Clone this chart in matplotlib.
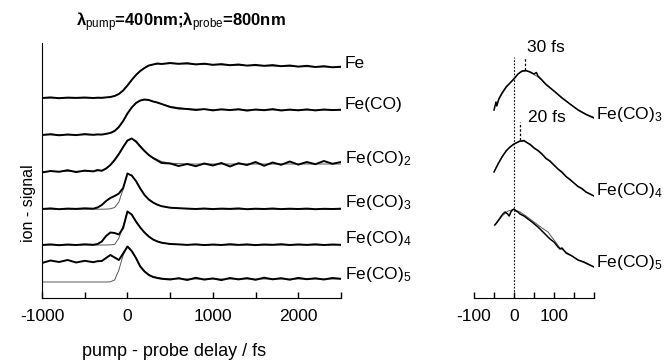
import matplotlib
matplotlib.use('Agg')
import matplotlib.pyplot as plt

plt.rcParams['font.family'] = ['Liberation Sans', 'DejaVu Sans']
plt.rcParams['mathtext.fontset'] = 'custom'
plt.rcParams['mathtext.rm'] = 'Liberation Sans'
plt.rcParams['mathtext.it'] = 'Liberation Sans:italic'
plt.rcParams['mathtext.bf'] = 'Liberation Sans:bold'
plt.rcParams['axes.unicode_minus'] = False

# ---- left panel: full transients (ion signal, offset per species) ----
delay = [-1000, -900, -800, -700, -600, -500, -400, -350, -300, -250, -200, -150,
         -100, -50, 0, 50, 100, 150, 200, 250, 300, 350, 400, 500, 600, 700, 800,
         900, 1000, 1100, 1200, 1300, 1400, 1500, 1600, 1700, 1800, 1900, 2000,
         2100, 2200, 2300, 2400, 2500]
delay_fit = [-1000, -400, -300, -250, -200, -150, -100, -50, 0, 50, 100, 150, 200,
             250, 300, 400, 500, 700, 1000, 1500, 2000, 2500]

fe = [200.0, 200.6, 199.8, 200.4, 200.1, 200.5, 200.0, 200.3, 200.2, 200.6, 201.0, 202.0,
      204.0, 207.5, 212.5, 218.0, 223.0, 227.0, 230.0, 232.5, 233.5, 234.5, 234.0, 235.0,
      234.2, 234.8, 233.6, 234.3, 233.2, 233.9, 232.8, 233.5, 232.4, 233.1, 232.2, 232.9,
      231.8, 232.5, 231.4, 232.2, 231.0, 231.8, 230.7, 231.3]
fe_fit = [200.0, 200.0, 200.2, 200.5, 201.0, 202.2, 204.2, 207.8, 212.6, 218.0, 223.0,
          227.2, 230.3, 232.3, 233.5, 234.3, 234.4, 234.0, 233.3, 232.3, 231.4, 230.8]

feco1 = [163.0, 163.8, 162.7, 163.5, 162.9, 163.9, 163.2, 163.6, 163.4, 164.2, 165.0, 167.0,
         171.0, 177.0, 184.5, 190.5, 195.0, 197.5, 198.5, 198.0, 196.5, 195.5, 194.0, 191.0,
         189.5, 189.0, 188.0, 188.9, 187.6, 188.7, 187.9, 188.8, 187.4, 188.5, 187.8, 188.9,
         187.5, 188.4, 187.7, 188.6, 187.6, 188.5, 187.9, 188.3]
feco1_fit = [163.2, 163.2, 163.5, 164.0, 165.2, 167.5, 171.2, 176.8, 184.0, 190.2, 194.8,
             197.4, 198.2, 197.8, 196.6, 194.0, 191.5, 189.2, 188.3, 188.1, 188.0, 188.0]

feco2 = [125.5, 127.0, 126.2, 127.8, 125.9, 127.4, 126.6, 128.0, 127.2, 129.5, 133.0, 138.0,
         144.0, 151.0, 157.5, 159.5, 156.5, 151.5, 147.0, 143.0, 140.0, 137.5, 135.0, 134.5,
         132.0, 134.0, 131.8, 134.5, 132.5, 135.0, 131.5, 134.8, 133.0, 136.0, 132.2, 135.5,
         133.2, 136.5, 133.4, 136.0, 133.8, 137.0, 134.2, 136.0]
feco2_fit = [126.5, 126.8, 127.5, 129.2, 132.8, 137.8, 144.0, 151.0, 157.2, 159.2, 157.0,
             152.0, 147.2, 143.2, 140.2, 136.5, 134.8, 134.0, 134.0, 134.0, 134.0, 134.0]

feco3 = [89.0, 89.6, 88.8, 89.4, 89.1, 89.7, 89.3, 90.5, 93.0, 97.0, 100.0, 102.0,
         104.5, 110.0, 124.5, 122.5, 117.0, 109.5, 103.0, 98.5, 95.5, 93.3, 91.8, 90.3,
         89.8, 89.4, 89.0, 89.5, 88.9, 89.4, 89.1, 89.6, 88.8, 89.3, 89.0, 89.5,
         88.9, 89.3, 89.0, 89.4, 88.8, 89.2, 89.0, 89.3]
feco3_fit = [88.8, 88.8, 88.8, 88.9, 89.2, 90.5, 96.0, 109.0, 124.0, 122.5, 117.0,
             109.5, 103.0, 98.5, 95.5, 91.8, 90.3, 89.2, 88.9, 88.8, 88.8, 88.8]

feco4 = [53.0, 53.6, 52.8, 53.5, 53.0, 53.7, 53.2, 54.0, 56.5, 62.0, 65.5, 65.0,
         63.5, 70.0, 86.5, 83.5, 76.5, 70.5, 65.5, 61.5, 58.5, 56.5, 55.3, 54.0,
         53.6, 53.1, 53.7, 52.9, 53.5, 53.0, 53.8, 53.1, 53.6, 52.9, 53.5, 53.2,
         53.8, 53.0, 53.6, 53.1, 53.7, 53.0, 53.5, 53.2]
feco4_fit = [53.0, 53.0, 53.0, 53.0, 53.2, 53.5, 60.0, 72.0, 86.5, 83.5, 76.5,
             70.5, 65.5, 61.5, 58.5, 55.3, 54.0, 53.3, 53.0, 53.0, 53.0, 53.0]

feco5 = [35.0, 37.5, 36.0, 38.0, 35.5, 37.2, 35.8, 36.8, 37.0, 40.0, 43.0, 40.5,
         38.0, 44.5, 51.5, 47.0, 40.0, 31.5, 26.5, 23.0, 21.0, 20.0, 19.2, 18.5,
         19.8, 18.0, 20.2, 18.4, 19.6, 17.9, 20.0, 18.6, 19.9, 18.2, 20.3, 18.7,
         19.8, 18.3, 20.1, 18.8, 19.7, 18.5, 20.0, 19.2]
feco5_fit = [16.0, 16.0, 16.0, 16.0, 16.2, 18.0, 28.0, 43.0, 51.5, 47.0, 40.0,
             32.0, 27.0, 23.5, 21.5, 19.8, 19.2, 19.0, 19.0, 19.0, 19.0, 19.0]

species = ['Fe', 'Fe(CO)', 'Fe(CO)$_2$', 'Fe(CO)$_3$', 'Fe(CO)$_4$', 'Fe(CO)$_5$']
label_y = [235, 193, 140, 96, 60, 24]

# ---- right panel: zoom around time zero ----
t_r3 = [-50, -45, -43, -38, -30, -20, -10, 0, 10, 20, 30, 40, 50, 56, 60, 70, 80,
        100, 120, 140, 160, 180, 200]
sig_r3 = [188, 196, 192, 199, 205, 211, 215, 219, 224, 227, 227.5, 226, 224, 225.5,
          222, 218, 213.5, 207, 200, 194, 188, 183.5, 180]
t_r3_fit = [-40, -30, -20, -10, 0, 10, 20, 30, 40, 60, 80, 100, 120, 140, 160, 180, 200]
sig_r3_fit = [197, 204, 210, 215, 220, 224, 226.5, 227, 226, 221, 214, 207, 200.5,
              194, 188.5, 184, 180.5]

t_r4 = [-50, -40, -30, -20, -10, 0, 10, 15, 20, 25, 30, 40, 50, 60, 70, 80, 90, 100,
        110, 120, 130, 140, 150, 160, 170, 180, 190, 200]
sig_r4 = [126, 134, 141, 147, 151, 154, 156, 157, 157, 157.5, 156, 153.5, 150, 147.5,
          144, 139.5, 137, 133, 129, 126, 121.5, 118.5, 115, 111.5, 109.5, 106, 104, 102]
t_r4_fit = [-45, -30, -15, 0, 15, 25, 40, 60, 80, 100, 120, 140, 160, 180, 200]
sig_r4_fit = [130, 141, 149, 154, 156.5, 157, 154, 147, 140, 132.5, 125, 118, 111.5, 106, 102]

t_r5 = [-48, -42, -35, -28, -22, -16, -12, -8, -4, 0, 5, 10, 15, 25, 35, 45, 60, 75,
        90, 100, 110, 115, 120, 130, 145, 160, 175, 190, 200]
sig_r5 = [73, 76, 80, 84, 86, 84, 82, 86, 88, 89, 87, 86, 84, 82, 79, 76, 71, 65,
          59, 56, 51, 49, 50, 45, 42, 38, 36, 33, 31]
t_r5_fit = [-45, -30, -15, 0, 15, 30, 50, 70, 85, 100, 115, 130, 160, 200]
sig_r5_fit = [74, 82, 87, 88.5, 86, 82, 76, 70, 66, 58, 50, 46, 38, 31]

right_species = ['Fe(CO)$_3$', 'Fe(CO)$_4$', 'Fe(CO)$_5$']
right_label_y = [183, 108, 36]

fig = plt.figure(figsize=(6.68, 3.64), dpi=100)

axl = fig.add_axes([42 / 668, 66 / 364, 299 / 668, 255 / 364])
data = [fe, feco1, feco2, feco3, feco4, feco5]
fits = [fe_fit, feco1_fit, feco2_fit, feco3_fit, feco4_fit, feco5_fit]
for sig, fit, name, ly in zip(data, fits, species, label_y):
    axl.plot(delay_fit, fit, color='0.35', lw=0.7)
    axl.plot(delay, sig, color='k', lw=1.4)
    axl.text(2545, ly, name, ha='left', va='center', fontsize=12.5, clip_on=False)

axl.set_xlim(-1000, 2500)
axl.set_ylim(0, 255)
axl.spines['top'].set_visible(False)
axl.spines['right'].set_visible(False)
axl.set_yticks([])
axl.set_xticks([-1000, 0, 1000, 2000])
axl.set_xticks([-500, 500, 1500, 2500], minor=True)
axl.tick_params(axis='x', which='both', direction='in', length=4, width=1,
                pad=8, labelsize=12.5)

axr = fig.add_axes([474 / 668, 66 / 364, 120 / 668, 255 / 364])
axr.plot([0, 0], [0, 241], color='k', lw=0.8, ls=(0, (1.5, 1.5)))
axr.plot([28, 28], [228, 241], color='k', lw=0.9, ls=(0, (2, 1.5)))
axr.plot([16, 16], [158, 176], color='k', lw=0.9, ls=(0, (2, 1.5)))
axr.text(32, 251, '30 fs', ha='left', va='center', fontsize=12.5)
axr.text(35, 180, '20 fs', ha='left', va='center', fontsize=12.5)

for t, s, tf, sf in [(t_r3, sig_r3, t_r3_fit, sig_r3_fit),
                     (t_r4, sig_r4, t_r4_fit, sig_r4_fit),
                     (t_r5, sig_r5, t_r5_fit, sig_r5_fit)]:
    axr.plot(tf, sf, color='0.35', lw=0.7)
    axr.plot(t, s, color='k', lw=1.1)
for name, ly in zip(right_species, right_label_y):
    axr.text(205, ly, name, ha='left', va='center', fontsize=12.5, clip_on=False)

axr.set_xlim(-100, 200)
axr.set_ylim(0, 255)
for side in ['top', 'right', 'left']:
    axr.spines[side].set_visible(False)
axr.set_yticks([])
axr.set_xticks([-100, 0, 100])
axr.set_xticks([-50, 50, 150, 200], minor=True)
axr.tick_params(axis='x', which='both', direction='in', length=4, width=1,
                pad=8, labelsize=12.5)

fig.text(181 / 668, 1 - 22 / 364, 'λ$_{\\rm pump}$=400nm;λ$_{\\rm probe}$=800nm',
         ha='center', va='center', fontsize=12, fontweight='bold')
fig.text(28 / 668, 1 - 203 / 364, 'ion - signal', rotation=90,
         ha='center', va='center', fontsize=11.5)
fig.text(174 / 668, 1 - 352 / 364, 'pump - probe delay / fs',
         ha='center', va='center', fontsize=13)

fig.savefig('out.png', dpi=100)
